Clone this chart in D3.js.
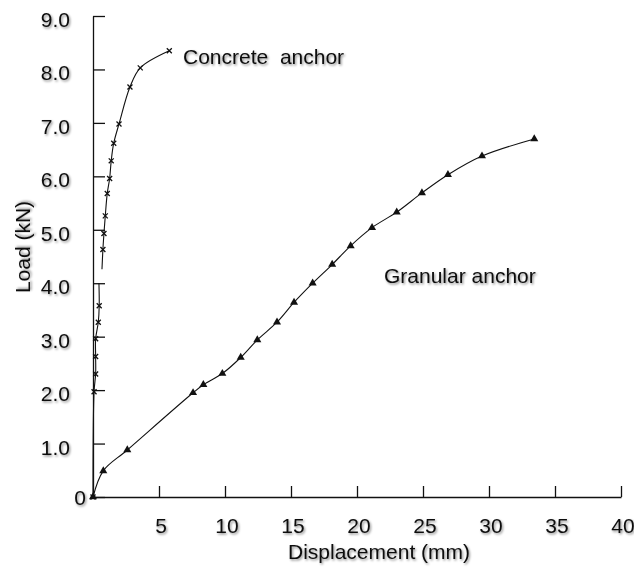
<!DOCTYPE html>
<html lang="en">
<head>
    <meta charset="UTF-8">
    <title>Load vs Displacement</title>
    <script src="https://d3js.org/d3.v7.min.js"></script>
    <style>
        body {
            margin: 0;
            background: #fff;
        }
        svg text {
            font-family: 'Liberation Sans', Arial, sans-serif; /* Arial look-alike */
            fill: #111;
        }
    </style>
</head>
<body>
<div id="chart"></div>
<script>
    // Granular anchor (triangles)
    var granularDisp = [0, 0.78, 2.60, 7.58, 8.36, 9.80, 11.19, 12.45, 13.94, 15.23, 16.64, 18.12, 19.52, 21.14, 23.01, 24.92, 26.89, 29.47, 33.43];
    var granularLoad = [0, 0.49, 0.88, 1.95, 2.10, 2.31, 2.61, 2.94, 3.27, 3.64, 4.00, 4.35, 4.70, 5.04, 5.33, 5.69, 6.03, 6.38, 6.70];

    // Concrete anchor (x marks), null = break in the curve, mark 0 = no marker
    var concreteDisp = [0, 0.08, 0.2, 0.2, 0.2, 0.4, 0.47, 0.45, null, 0.68, 0.75, 0.83, 0.93, 1.08, 1.26, 1.38, 1.57, 1.97, 2.80, 3.58, 5.78];
    var concreteLoad = [0, 1.97, 2.3, 2.63, 2.96, 3.27, 3.58, 4.0, null, 4.26, 4.63, 4.93, 5.26, 5.68, 5.96, 6.29, 6.62, 6.98, 7.67, 8.03, 8.35];
    var concreteMark = [1, 1, 1, 1, 1, 1, 1, 0, 0, 0, 1, 1, 1, 1, 1, 1, 1, 1, 1, 1, 1];

    var xTicks = [5, 10, 15, 20, 25, 30, 35, 40];
    var yTicks = [0, 1, 2, 3, 4, 5, 6, 7, 8, 9];

    var width = 634, height = 568;

    var svg = d3.select("#chart")
        .append("svg")
        .attr("width", width)
        .attr("height", height);

    // soft shadow like the original text
    svg.append("defs").append("filter")
        .attr("id", "shadow")
        .attr("x", "-20%").attr("y", "-20%")
        .attr("width", "140%").attr("height", "160%")
        .append("feDropShadow")
        .attr("dx", 1.2).attr("dy", 1.5)
        .attr("stdDeviation", 1.1)
        .attr("flood-color", "#000")
        .attr("flood-opacity", 0.45);

    var x = d3.scaleLinear().domain([0, 40]).range([93, 621]);
    var y = d3.scaleLinear().domain([0, 9]).range([497, 16]);

    // axes
    var xAxis = svg.append("g")
        .attr("transform", "translate(0," + y(0) + ")")
        .call(d3.axisBottom(x).tickValues(xTicks).tickFormat(d3.format("d"))
            .tickSizeInner(-11).tickSizeOuter(0).tickPadding(21));

    var yAxis = svg.append("g")
        .attr("transform", "translate(" + x(0) + ",0)")
        .call(d3.axisLeft(y).tickValues(yTicks)
            .tickFormat(d => d === 0 ? "0" : d3.format(".1f")(d))
            .tickSizeInner(-12).tickSizeOuter(0).tickPadding(23));

    [xAxis, yAxis].forEach(function (g) {
        g.select(".domain").attr("stroke", "#111").attr("stroke-width", 1.3);
        g.selectAll(".tick line").attr("stroke", "#111").attr("stroke-width", 1.3);
        g.selectAll(".tick text")
            .attr("font-size", 21)
            .attr("filter", "url(#shadow)");
    });
    xAxis.selectAll(".tick text").attr("dx", 1.5);
    yAxis.selectAll(".tick text").attr("dy", "0.5em");
    yAxis.selectAll(".tick").filter(d => d === 0).select("text")
        .attr("x", -7).attr("dy", "0.36em");

    // series
    var granular = granularDisp.map((d, i) => ({x: d, y: granularLoad[i]}));
    var concrete = concreteDisp.map((d, i) => ({x: d, y: concreteLoad[i], m: concreteMark[i]}));

    var line = d3.line()
        .defined(d => d.x !== null)
        .x(d => x(d.x))
        .y(d => y(d.y))
        .curve(d3.curveCatmullRom.alpha(0.5));

    svg.append("path")
        .datum(granular)
        .attr("d", line)
        .attr("fill", "none")
        .attr("stroke", "#111")
        .attr("stroke-width", 1.1);

    svg.append("path")
        .datum(concrete)
        .attr("d", line)
        .attr("fill", "none")
        .attr("stroke", "#111")
        .attr("stroke-width", 1.1);

    svg.selectAll("path.tri")
        .data(granular)
        .enter().append("path")
        .attr("class", "tri")
        .attr("transform", d => "translate(" + x(d.x) + "," + y(d.y) + ")")
        .attr("d", d3.symbol().type(d3.symbolTriangle).size(28))
        .attr("fill", "#111");

    svg.selectAll("path.cross")
        .data(concrete.filter(d => d.m === 1))
        .enter().append("path")
        .attr("class", "cross")
        .attr("transform", d => "translate(" + x(d.x) + "," + y(d.y) + ")")
        .attr("d", d3.symbol().type(d3.symbolTimes).size(18))
        .attr("fill", "none")
        .attr("stroke", "#111")
        .attr("stroke-width", 1.3);

    // labels
    svg.append("text")
        .attr("x", 183).attr("y", 64)
        .attr("font-size", 21)
        .attr("filter", "url(#shadow)")
        .style("white-space", "pre")
        .text("Concrete  anchor");

    svg.append("text")
        .attr("x", 384).attr("y", 283)
        .attr("font-size", 21)
        .attr("filter", "url(#shadow)")
        .text("Granular anchor");

    svg.append("text")
        .attr("x", 288).attr("y", 559)
        .attr("font-size", 21)
        .attr("filter", "url(#shadow)")
        .text("Displacement (mm)");

    svg.append("text")
        .attr("transform", "translate(30,247) rotate(-90)")
        .attr("text-anchor", "middle")
        .attr("font-size", 21)
        .attr("filter", "url(#shadow)")
        .text("Load (kN)");
</script>
</body>
</html>
